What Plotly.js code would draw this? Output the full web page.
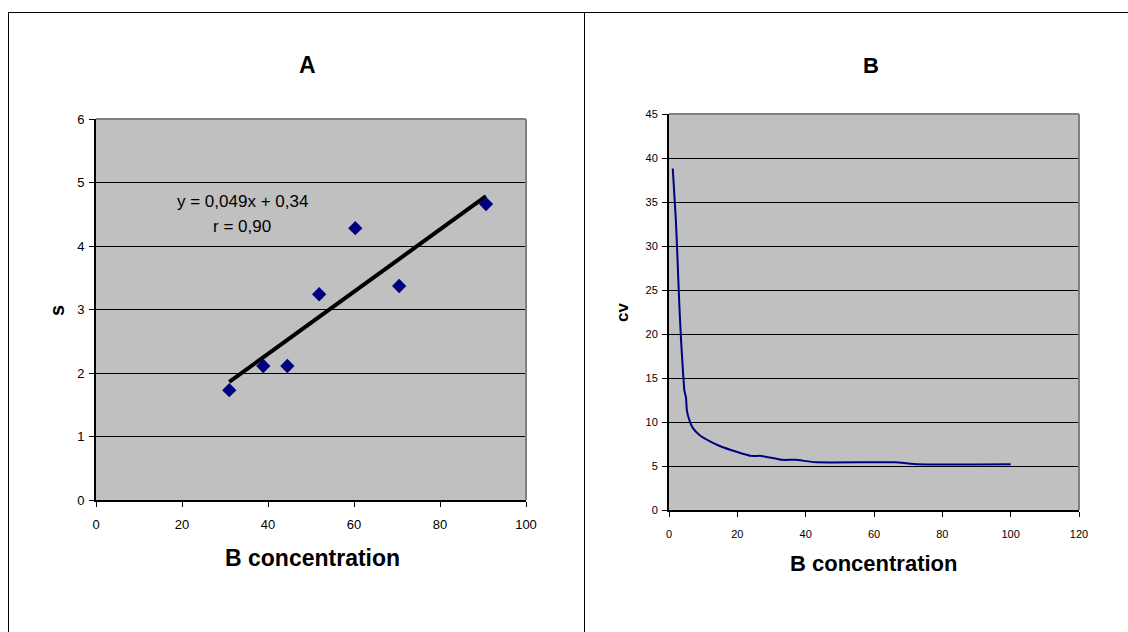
<!DOCTYPE html>
<html>
<head>
<meta charset="utf-8">
<script src="https://cdn.plot.ly/plotly-3.0.1.min.js"></script>
<style>
html,body{margin:0;padding:0;background:#fff;}
#chart{width:1128px;height:632px;}
</style>
</head>
<body>
<div id="chart"></div>
<script>
// ---- Panel A data: scatter of s versus B concentration ----
const concA = [31.0, 38.9, 44.5, 51.9, 60.3, 70.5, 90.7];
const sValues = [1.73, 2.11, 2.11, 3.24, 4.28, 3.37, 4.66];
const fitSlope = 0.049;
const fitIntercept = 0.34;
const fitText = "y = 0,049x + 0,34";
const rText = "r = 0,90";

// ---- Panel B data: cv versus B concentration ----
const concB = [1.1, 2, 2.5, 3, 3.5, 4, 4.5, 5, 5.2, 5.8, 7, 9, 12, 15, 20, 24, 27, 33, 37, 43, 66, 73, 100];
const cvValues = [38.8, 33, 28.5, 23.5, 19.5, 16.3, 13.6, 12.7, 11.4, 10.4, 9.3, 8.5, 7.8, 7.25, 6.6, 6.15, 6.15, 5.7, 5.7, 5.42, 5.42, 5.2, 5.2];

// ---- tick values ----
const ticksAx = [0, 20, 40, 60, 80, 100];
const ticksAy = [0, 1, 2, 3, 4, 5, 6];
const ticksBx = [0, 20, 40, 60, 80, 100, 120];
const ticksBy = [0, 5, 10, 15, 20, 25, 30, 35, 40, 45];

const W = 1128, H = 632;
const px = v => v / W;
const py = v => 1 - v / H;

const fitX = [Math.min(...concA), Math.max(...concA)];
const fitY = fitX.map(x => fitSlope * x + fitIntercept);

const navy = '#000080';
const font = 'Liberation Sans, Arial, sans-serif';

const traces = [
  {x: fitX, y: fitY, xaxis: 'x', yaxis: 'y', mode: 'lines', line: {color: '#000', width: 4}, hoverinfo: 'skip'},
  {x: concA, y: sValues, xaxis: 'x', yaxis: 'y', mode: 'markers',
   marker: {symbol: 'diamond', size: 11, color: navy}},
  {x: concB, y: cvValues, xaxis: 'x2', yaxis: 'y2', mode: 'lines',
   line: {color: navy, width: 2, shape: 'spline', smoothing: 0.4}}
];

const axBase = {
  showgrid: false, zeroline: false, showline: true, linecolor: '#000', linewidth: 2,
  ticks: 'outside', ticklen: 5, tickcolor: '#000', tickwidth: 1,
  tickfont: {family: font, size: 13, color: '#000'}, fixedrange: true
};

const layout = {
  width: W, height: H,
  margin: {l: 0, r: 0, t: 0, b: 0},
  paper_bgcolor: '#fff', plot_bgcolor: '#c0c0c0',
  showlegend: false,
  font: {family: font, color: '#000'},
  xaxis: Object.assign({}, axBase, {domain: [px(96), px(526)], range: [0, 100], tickvals: ticksAx, anchor: 'y', ticklabelstandoff: 6}),
  yaxis: Object.assign({}, axBase, {domain: [py(500), py(119)], range: [0, 6], tickvals: ticksAy, anchor: 'x',
    showgrid: true, gridcolor: '#000', gridwidth: 1, ticklabelstandoff: 2}),
  xaxis2: Object.assign({}, axBase, {domain: [px(669), px(1079)], range: [0, 120], tickvals: ticksBx, anchor: 'y2',
    tickfont: {family: font, size: 11, color: '#000'}, ticklabelstandoff: 8}),
  yaxis2: Object.assign({}, axBase, {domain: [py(510), py(114)], range: [0, 45], tickvals: ticksBy, anchor: 'x2',
    showgrid: true, gridcolor: '#000', gridwidth: 1, tickfont: {family: font, size: 11, color: '#000'}, ticklabelstandoff: 2}),
  shapes: [
    // panel frame lines
    {type: 'line', xref: 'paper', yref: 'paper', x0: px(8.5), x1: 1, y0: py(12.5), y1: py(12.5), line: {color: '#000', width: 1}},
    {type: 'line', xref: 'paper', yref: 'paper', x0: px(8.5), x1: px(8.5), y0: py(12.5), y1: 0, line: {color: '#000', width: 1}},
    {type: 'line', xref: 'paper', yref: 'paper', x0: px(584.5), x1: px(584.5), y0: py(12.5), y1: 0, line: {color: '#000', width: 1}},
    // plot area top/right borders (gray)
    {type: 'line', xref: 'x domain', yref: 'y domain', x0: 0, x1: 1, y0: 1, y1: 1, line: {color: '#808080', width: 2}},
    {type: 'line', xref: 'x domain', yref: 'y domain', x0: 1, x1: 1, y0: 0, y1: 1, line: {color: '#808080', width: 2}},
    {type: 'line', xref: 'x2 domain', yref: 'y2 domain', x0: 0, x1: 1, y0: 1, y1: 1, line: {color: '#808080', width: 2}},
    {type: 'line', xref: 'x2 domain', yref: 'y2 domain', x0: 1, x1: 1, y0: 0, y1: 1, line: {color: '#808080', width: 2}}
  ],
  annotations: [
    {text: '<b>A</b>', x: px(307), y: py(65), font: {size: 23}},
    {text: '<b>B</b>', x: px(871), y: py(65), font: {size: 22}},
    {text: '<b>B concentration</b>', x: px(312), y: py(558), font: {size: 23}},
    {text: '<b>B concentration</b>', x: px(873), y: py(563), font: {size: 22}},
    {text: '<b>s</b>', x: px(57), y: py(310), textangle: -90, font: {size: 20}},
    {text: '<b>cv</b>', x: px(622), y: py(313), textangle: -90, font: {size: 17}},
    {text: fitText, x: px(242), y: py(202), font: {size: 17}},
    {text: rText, x: px(242), y: py(226), font: {size: 17}}
  ].map(a => Object.assign({xref: 'paper', yref: 'paper', showarrow: false, xanchor: 'center', yanchor: 'middle'}, a))
};

Plotly.newPlot('chart', traces, layout, {displayModeBar: false, staticPlot: true});
</script>
</body>
</html>
